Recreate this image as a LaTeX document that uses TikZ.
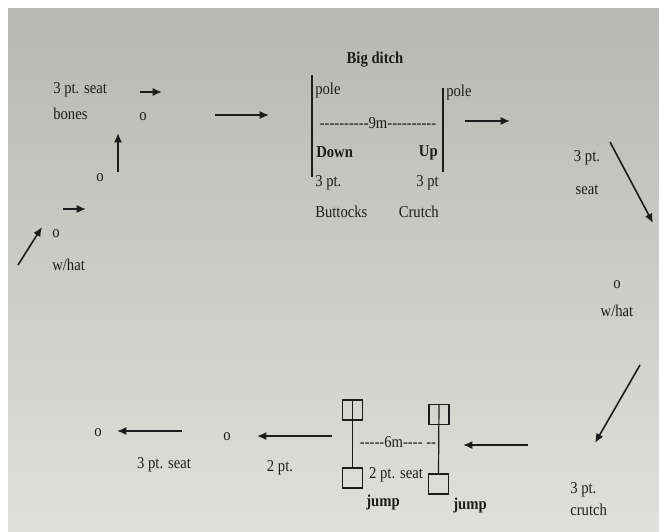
\documentclass[tikz,border=0pt]{standalone}
\usepackage{fontspec}
\setmainfont{Liberation Serif}[FakeStretch=0.88]
\usepackage{xcolor}
\definecolor{papertop}{RGB}{184,184,179}
\definecolor{papermid}{RGB}{212,212,207}
\definecolor{paperbot}{RGB}{224,224,219}
\definecolor{ink}{RGB}{28,28,28}
\usepackage{tikz}
\usetikzlibrary{arrows.meta}
\newcommand{\hyph}[1]{\foreach \k in {1,...,#1}{-\kern0pt}}

\begin{document}
\begin{tikzpicture}[x=0.75pt, y=-0.75pt,
        lbl/.style={inner sep=0pt, text=ink, font=\fontsize{12.5}{14}\selectfont},
        hd/.style={lbl, font=\fontsize{12.5}{14}\selectfont\bfseries},
        arr/.style={-{Latex[length=7pt, width=6pt]}, line width=1.2pt, draw=ink},
        polebar/.style={line width=0.9pt, draw=ink},
        sq/.style={draw=ink, line width=0.9pt, minimum size=15pt, inner sep=0pt}
    ]
        \useasboundingbox (0,0) rectangle (659,531);
        \fill[white] (0,0) rectangle (659,531);
        \shade[top color=papertop, middle color=papermid, bottom color=paperbot] (8,9) rectangle (659,531);

        \node[lbl, anchor=west, align=left] (seatbones) at (53,101) {3 pt. seat\\[5.5pt]bones};
        \node[lbl] (o1) at (143,117) {o};
        \node[lbl] (o2) at (100,178) {o};
        \node[lbl, anchor=west, align=left] (hatL) at (52,250) {o\\[10.75pt]w/hat};

        \coordinate (a1) at (18,265);  \coordinate (a2) at (42,227);
        \coordinate (b1) at (63,209);  \coordinate (b2) at (86,209);
        \coordinate (c1) at (118,172); \coordinate (c2) at (118,133);
        \coordinate (d1) at (140,92);  \coordinate (d2) at (162,92);
        \coordinate (e1) at (215,115); \coordinate (e2) at (269,115);
        \draw[arr] (a1) -- (a2);
        \draw[arr] (b1) -- (b2);
        \draw[arr] (c1) -- (c2);
        \draw[arr] (d1) -- (d2);
        \draw[arr] (e1) -- (e2);

        % the ditch
        \node[hd] (ditch) at (375,60) {Big ditch};
        \coordinate (poleLtop) at (312,75);  \coordinate (poleLbot) at (312,177);
        \coordinate (poleRtop) at (443,88);  \coordinate (poleRbot) at (443,172);
        \draw[polebar] (poleLtop) -- (poleLbot);
        \draw[polebar] (poleRtop) -- (poleRbot);
        \node[lbl, anchor=west] (poleL) at (315,90) {pole};
        \node[lbl, anchor=west] (poleR) at (446,92) {pole};
        \node[lbl] (nine) at (378,123) {\hyph{10}9m\hyph{10}};
        \node[hd, anchor=west] (down) at (316,152) {Down};
        \node[hd, anchor=east] (up) at (438,153) {Up};
        \node[lbl, anchor=west, align=left] (buttocks) at (315,197) {3 pt.\\[9.25pt]Buttocks};
        \node[lbl, anchor=east, align=right] (crutchUp) at (439,197) {3 pt\\[9.25pt]Crutch};

        \coordinate (f1) at (465,121); \coordinate (f2) at (510,121);
        \draw[arr] (f1) -- (f2);

        \node[lbl, align=center] (seatR) at (587,173) {3 pt.\\[10.75pt]seat};
        \node[lbl, align=center] (hatR) at (617,299) {o\\[7pt]w/hat};
        \node[lbl, anchor=west, align=left] (crutchR) at (570,499) {3 pt.\\[2.5pt]crutch};

        \coordinate (g1) at (610,142); \coordinate (g2) at (653,223);
        \coordinate (h1) at (640,365); \coordinate (h2) at (595,443);
        \draw[arr] (g1) -- (g2);
        \draw[arr] (h1) -- (h2);

        % the jump
        \node[sq] (jmpAtop) at (352.5,410) {};
        \node[sq] (jmpAbot) at (352.5,478) {};
        \node[sq] (jmpBtop) at (439,414.5) {};
        \node[sq] (jmpBbot) at (438.5,484) {};
        \draw[polebar] (jmpAtop.north) -- (jmpAbot.north);
        \draw[polebar] (jmpBtop.north) -- (jmpBbot.north);
        \node[lbl] (six) at (398,442) {\hyph{5}6m\hyph{4} \hyph{2}};
        \node[lbl] (twoseat) at (396,475) {2 pt. seat};
        \node[hd] (jumpA) at (383,502) {jump};
        \node[hd] (jumpB) at (470,505) {jump};

        \node[lbl] (o4) at (227,437) {o};
        \node[lbl] (twopt) at (280,468) {2 pt.};
        \node[lbl] (o5) at (98,433) {o};
        \node[lbl] (threeseat) at (164,465) {3 pt. seat};

        \coordinate (i1) at (528,445); \coordinate (i2) at (463,445);
        \coordinate (j1) at (332,436); \coordinate (j2) at (257,436);
        \coordinate (k1) at (182,431); \coordinate (k2) at (117,431);
        \draw[arr] (i1) -- (i2);
        \draw[arr] (j1) -- (j2);
        \draw[arr] (k1) -- (k2);
    \end{tikzpicture}
\end{document}
